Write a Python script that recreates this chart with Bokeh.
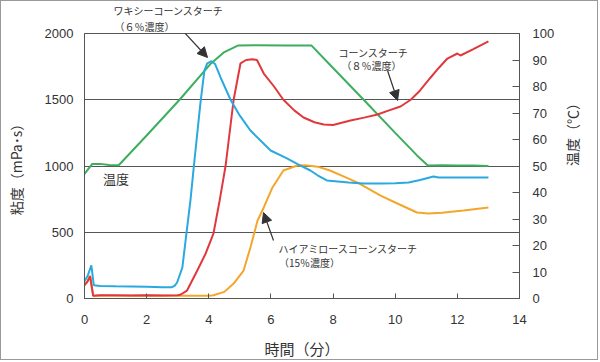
import math
from bokeh.plotting import figure
from bokeh.models import Range1d, LinearAxis, FixedTicker, Label, Arrow, NormalHead, Title
from bokeh.embed import file_html
from bokeh.resources import INLINE

# ---- data ----
temp_t = [0, 0.1, 0.25, 0.5, 0.8, 1.1, 2.0, 3.06, 4.07, 4.5, 4.95, 5.5, 6.5, 7.3, 8.0, 9.0, 10.0, 10.7, 11.05, 11.5, 12.0, 12.5, 13.0]
temp_v = [47, 48.5, 50.8, 50.8, 50.4, 50.3, 61.5, 75, 88.7, 93, 95.5, 95.6, 95.5, 95.5, 87, 74.8, 62.5, 54, 50.2, 50.3, 50.2, 50.2, 50]

corn_t = [0, 0.1, 0.18, 0.28, 0.5, 1.0, 1.5, 2.0, 2.5, 3.0, 3.1, 3.3, 3.63, 3.9, 4.15, 4.35, 4.54, 4.8, 5.02, 5.2, 5.4, 5.55, 5.77, 6.1, 6.4, 6.75, 7.05, 7.4, 7.7, 8.0, 8.56, 9.0, 9.43, 9.8, 10.17, 10.5, 10.8, 11.14, 11.4, 11.68, 12.0, 12.1, 12.5, 13.0]
corn_v = [100, 130, 170, 20, 25, 25, 22, 25, 22, 25, 30, 60, 211, 340, 490, 740, 1000, 1500, 1774, 1800, 1805, 1800, 1698, 1600, 1500, 1420, 1366, 1330, 1313, 1310, 1343, 1365, 1389, 1420, 1449, 1500, 1570, 1668, 1740, 1811, 1849, 1834, 1880, 1940]

waxy_t = [0, 0.1, 0.22, 0.3, 0.5, 1.0, 1.5, 2.0, 2.5, 2.8, 2.9, 2.98, 3.15, 3.28, 3.41, 3.52, 3.73, 3.86, 3.95, 4.09, 4.2, 4.38, 4.7, 5.0, 5.34, 5.99, 6.5, 6.95, 7.27, 7.5, 7.8, 8.5, 8.98, 9.53, 10.0, 10.43, 10.8, 11.23, 11.4, 12.0, 13.0]
waxy_v = [130, 170, 250, 100, 95, 92, 90, 88, 85, 85, 95, 121, 234, 490, 740, 1000, 1472, 1721, 1775, 1791, 1770, 1668, 1500, 1380, 1268, 1117, 1060, 1003, 966, 930, 891, 875, 868, 868, 870, 875, 895, 921, 913, 913, 913]

amylo_t = [0, 0.1, 0.18, 0.28, 0.5, 1.0, 2.0, 3.0, 3.5, 4.0, 4.15, 4.5, 4.8, 5.12, 5.34, 5.57, 5.77, 6.05, 6.4, 6.85, 7.1, 7.5, 7.9, 8.3, 8.79, 9.53, 10.07, 10.7, 11.07, 11.5, 12.2, 13.0]
amylo_v = [100, 130, 165, 20, 22, 20, 22, 20, 20, 20, 25, 50, 113, 211, 385, 589, 687, 838, 966, 1004, 1005, 995, 966, 925, 875, 777, 717, 649, 642, 648, 664, 687]

x_ticks = [0, 2, 4, 6, 8, 10, 12, 14]
visc_ticks = [0, 500, 1000, 1500, 2000]
temp_ticks = [0, 10, 20, 30, 40, 50, 60, 70, 80, 90, 100]

GREEN = "#3dae5e"
RED = "#e0383c"
BLUE = "#2aa9df"
ORANGE = "#f4a62a"
TXT = "#333333"
JP = "Noto Sans CJK JP"
NUM = "Liberation Sans"

p = figure(width=598, height=360, x_range=Range1d(0, 14), y_range=Range1d(0, 2000),
           output_backend="svg", toolbar_location=None,
           title="ワキシーコーンスターチ",
           min_border_left=83, min_border_right=80, min_border_top=32, min_border_bottom=63)
p.styles = {"border": "1px solid #999999"}
p.extra_y_ranges = {"temp": Range1d(0, 100)}
p.background_fill_color = "white"
p.border_fill_color = "white"
p.outline_line_color = "#555555"
p.outline_line_width = 1

# top annotation (outside the frame) as titles
p.title.text_font = JP
p.title.text_font_size = "10px"
p.title.text_font_style = "normal"
p.title.text_color = TXT
p.title.align = "left"
p.title.offset = 29
try:
    p.title.standoff = -1
except Exception:
    p.title.standoff = 0
t2 = Title(text="（６％濃度）", text_font=JP, text_font_size="10px", text_font_style="normal",
           text_color=TXT, align="left", offset=30)
try:
    t2.standoff = -1
except Exception:
    t2.standoff = 0
p.add_layout(t2, "above")

# grid
p.xgrid.grid_line_color = None
p.ygrid.ticker = FixedTicker(ticks=visc_ticks)
p.ygrid.grid_line_color = "#555555"
p.ygrid.grid_line_width = 1

# left axis
la = p.yaxis[0]
la.ticker = FixedTicker(ticks=visc_ticks)
la.major_tick_in = 0
la.major_tick_out = 0
la.major_tick_line_color = None
la.minor_tick_line_color = None
la.axis_line_color = "#555555"
la.major_label_text_font = NUM
la.major_label_text_font_size = "13px"
la.major_label_text_color = TXT
la.major_label_standoff = 11
la.axis_label = "粘度（mPa･s）"
la.axis_label_text_font = JP
la.axis_label_text_font_size = "14px"
la.axis_label_text_font_style = "normal"
la.axis_label_text_color = TXT
la.axis_label_standoff = 16

# bottom axis
ba = p.xaxis[0]
ba.ticker = FixedTicker(ticks=x_ticks)
ba.major_tick_in = 5
ba.major_tick_out = 0
ba.major_tick_line_color = "#555555"
ba.minor_tick_line_color = None
ba.axis_line_color = "#555555"
ba.major_label_text_font = NUM
ba.major_label_text_font_size = "13px"
ba.major_label_text_color = TXT
ba.major_label_standoff = 16
ba.axis_label = "時間（分）"
ba.axis_label_text_font = JP
ba.axis_label_text_font_size = "15px"
ba.axis_label_text_font_style = "normal"
ba.axis_label_text_color = TXT
ba.axis_label_standoff = 11

# right axis
ra = LinearAxis(y_range_name="temp", ticker=FixedTicker(ticks=temp_ticks))
ra.major_tick_in = 7
ra.major_tick_out = 0
ra.major_tick_line_color = "#555555"
ra.minor_tick_line_color = None
ra.axis_line_color = "#555555"
ra.major_label_text_font = NUM
ra.major_label_text_font_size = "13px"
ra.major_label_text_color = TXT
ra.major_label_standoff = 13
ra.axis_label = "温度（℃）"
ra.axis_label_text_font = JP
ra.axis_label_text_font_size = "14px"
ra.axis_label_text_font_style = "normal"
ra.axis_label_text_color = TXT
ra.axis_label_standoff = 15
try:
    ra.axis_label_orientation = math.pi / 2
except Exception:
    pass
p.add_layout(ra, "right")

# curves
p.line(temp_t, temp_v, y_range_name="temp", line_color=GREEN, line_width=2)
p.line(amylo_t, amylo_v, line_color=ORANGE, line_width=2)
p.line(corn_t, corn_v, line_color=RED, line_width=2)
p.line(waxy_t, waxy_v, line_color=BLUE, line_width=2)

# annotations inside the frame
def lab(x, y, t, size="10px", align="center"):
    p.add_layout(Label(x=x, y=y, text=t, text_font=JP, text_font_size=size,
                       text_color=TXT, text_align=align, text_baseline="middle"))

lab(9.30, 1857, "コーンスターチ")
lab(9.24, 1758, "（８％濃度）")
lab(8.50, 377, "ハイアミロースコーンスターチ")
lab(7.24, 272, "（15％濃度）")
lab(1.01, 906, "温度", size="13px")

def arr(x0, y0, x1, y1):
    p.add_layout(Arrow(x_start=x0, y_start=y0, x_end=x1, y_end=y1,
                       line_color="#333333", line_width=1.2,
                       end=NormalHead(size=10, fill_color="#333333", line_color="#333333")))

arr(3.154, 2023, 3.959, 1819)
arr(9.752, 1721, 10.074, 1494)
arr(6.083, 438, 5.761, 649)

open("out.html", "w").write(file_html(p, INLINE))
